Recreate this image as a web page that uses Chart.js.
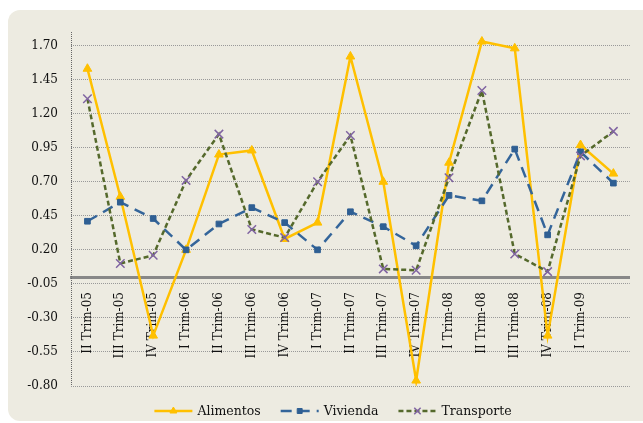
<!DOCTYPE html>
<html><head><meta charset="utf-8">
<script src="https://cdn.jsdelivr.net/npm/chart.js@4/dist/chart.umd.min.js"></script>
<style>html,body{margin:0;padding:0;background:#fff;}canvas{display:block;}</style>
</head><body>
<canvas id="c" width="643" height="423"></canvas>
<script>
const categories = ["II Trim-05","III Trim-05","IV Trim-05","I Trim-06","II Trim-06","III Trim-06","IV Trim-06","I Trim-07","II Trim-07","III Trim-07","IV Trim-07","I Trim-08","II Trim-08","III Trim-08","IV Trim-08","I Trim-09",""];
const alimentos  = [1.53, 0.59, -0.43, 0.20, 0.90, 0.93, 0.28, 0.40, 1.62, 0.70, -0.76, 0.84, 1.73, 1.68, -0.43, 0.97, 0.76];
const vivienda   = [0.41, 0.55, 0.43, 0.20, 0.39, 0.51, 0.40, 0.20, 0.48, 0.37, 0.23, 0.60, 0.56, 0.94, 0.31, 0.92, 0.69];
const transporte = [1.31, 0.10, 0.16, 0.71, 1.05, 0.35, 0.29, 0.70, 1.04, 0.06, 0.05, 0.73, 1.37, 0.17, 0.04, 0.89, 1.07];
const seriesNames = ["Alimentos","Vivienda","Transporte"];
const yTicks = [-0.80,-0.55,-0.30,-0.05,0.20,0.45,0.70,0.95,1.20,1.45,1.70];

const FONT = "'DejaVu Serif', serif";

const bgPlugin = {
  id: 'bg',
  beforeDraw(chart) {
    const ctx = chart.ctx;
    ctx.save();
    ctx.fillStyle = '#ffffff';
    ctx.fillRect(0, 0, chart.width, chart.height);
    ctx.fillStyle = '#EDEBE1';
    ctx.beginPath();
    if (ctx.roundRect) ctx.roundRect(8, 10, chart.width + 20, chart.height - 12, 12);
    else ctx.rect(8, 10, chart.width + 20, chart.height - 12);
    ctx.fill();
    ctx.restore();
  },
  beforeDatasetsDraw(chart) {
    const ctx = chart.ctx, a = chart.chartArea;
    ctx.save();
    ctx.strokeStyle = '#666';
    ctx.lineWidth = 1;
    ctx.setLineDash([1, 1]);
    ctx.beginPath();
    ctx.moveTo(Math.round(a.left) + 0.5, a.top);
    ctx.lineTo(Math.round(a.left) + 0.5, a.bottom);
    ctx.stroke();
    ctx.restore();
  }
};

const legendPlugin = {
  id: 'customLegend',
  afterDraw(chart) {
    const ctx = chart.ctx;
    ctx.save();
    ctx.font = "12.5px " + FONT;
    const lineW = 38, gapText = 5, gapItem = 20;
    const ds = chart.data.datasets;
    let total = 0;
    const widths = ds.map(d => ctx.measureText(d.label).width);
    widths.forEach((w, i) => { total += lineW + gapText + w + (i < ds.length - 1 ? gapItem : 0); });
    let x = 333 - total / 2;
    const y = 411;
    ds.forEach((d, i) => {
      ctx.save();
      ctx.strokeStyle = d.borderColor;
      ctx.lineWidth = d.borderWidth;
      ctx.setLineDash(d.borderDash || []);
      ctx.beginPath();
      ctx.moveTo(x, y); ctx.lineTo(x + lineW, y);
      ctx.stroke();
      ctx.setLineDash([]);
      ctx.fillStyle = d.pointBackgroundColor;
      ctx.strokeStyle = d.pointBorderColor;
      ctx.lineWidth = d.pointBorderWidth;
      Chart.helpers.drawPoint(ctx, {pointStyle: d.pointStyle, radius: d.legendRadius, borderWidth: d.pointBorderWidth, rotation: 0}, x + lineW / 2, y);
      ctx.restore();
      ctx.fillStyle = '#111';
      ctx.textBaseline = 'middle';
      ctx.textAlign = 'left';
      ctx.fillText(d.label, x + lineW + gapText, y + 1);
      x += lineW + gapText + widths[i] + gapItem;
    });
    ctx.restore();
  }
};

new Chart(document.getElementById('c'), {
  type: 'line',
  data: {
    labels: categories,
    datasets: [
      { label: seriesNames[0], data: alimentos, order: 3,
        borderColor: '#FFC000', borderWidth: 2.5, borderDash: [],
        pointStyle: 'triangle', pointRadius: 5, legendRadius: 4,
        pointBackgroundColor: '#FFC000', pointBorderColor: '#FFC000', pointBorderWidth: 1,
        tension: 0, fill: false },
      { label: seriesNames[1], data: vivienda, order: 2,
        borderColor: '#34659A', borderWidth: 2.5, borderDash: [11, 7],
        pointStyle: 'rect', pointRadius: 4, legendRadius: 3.5,
        pointBackgroundColor: '#2F5F93', pointBorderColor: '#2F5F93', pointBorderWidth: 1,
        tension: 0, fill: false },
      { label: seriesNames[2], data: transporte, order: 1,
        borderColor: '#55692C', borderWidth: 2.5, borderDash: [5, 3],
        pointStyle: 'crossRot', pointRadius: 6, legendRadius: 4.5,
        pointBackgroundColor: '#8064A2', pointBorderColor: '#8064A2', pointBorderWidth: 1.5,
        tension: 0, fill: false }
    ]
  },
  options: {
    responsive: false,
    animation: false,
    devicePixelRatio: 1,
    layout: { padding: { left: 8, top: 32, right: 6, bottom: 37 } },
    plugins: { legend: { display: false }, tooltip: { enabled: false } },
    scales: {
      x: {
        type: 'category',
        position: { y: 0 },
        offset: true,
        grid: { display: false, drawTicks: false },
        border: { display: true, color: '#888888', width: 3 },
        ticks: {
          autoSkip: false, maxRotation: 90, minRotation: 90, padding: 15,
          color: '#111', font: { family: FONT, size: 12 }
        }
      },
      y: {
        type: 'linear',
        min: -0.8, max: 1.8,
        afterBuildTicks(scale) { scale.ticks = yTicks.map(v => ({ value: v })); },
        afterFit(scale) { scale.width = 63; },
        grid: { color: '#999999', lineWidth: 1, drawTicks: false },
        border: { display: false, dash: [1, 1] },
        ticks: {
          padding: 13, color: '#111', font: { family: FONT, size: 12 },
          callback: v => Number(v).toFixed(2)
        }
      }
    }
  },
  plugins: [bgPlugin, legendPlugin]
});
</script>
</body></html>
